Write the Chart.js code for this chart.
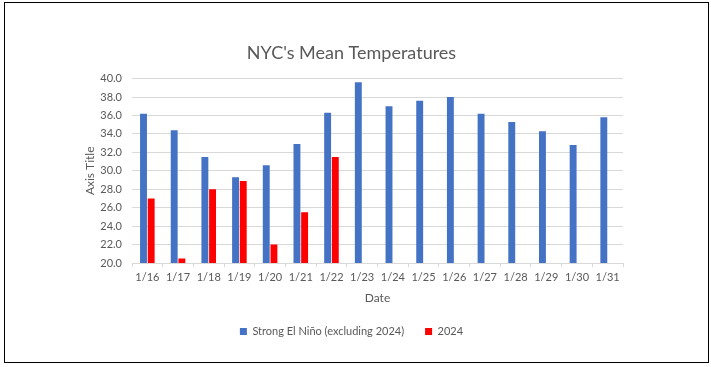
<!DOCTYPE html>
<html>
<head>
<meta charset="utf-8">
<script src="https://cdn.jsdelivr.net/npm/chart.js@4"></script>
<style>
  html, body { margin: 0; padding: 0; background: #fff; }
  body { width: 711px; height: 367px; position: relative; overflow: hidden; }
  .box {
    position: absolute; left: 4px; top: 2px;
    width: 703px; height: 359px;
    border: 1px solid #000;
  }
  canvas { display: block; }
</style>
</head>
<body>
<div class="box"><canvas id="chart" width="703" height="359"></canvas></div>
<script>
// Chart data
const dates = ["1/16","1/17","1/18","1/19","1/20","1/21","1/22","1/23","1/24","1/25","1/26","1/27","1/28","1/29","1/30","1/31"];
const strongElNino = [36.2, 34.4, 31.5, 29.3, 30.6, 32.9, 36.3, 39.6, 37.0, 37.6, 38.0, 36.2, 35.3, 34.3, 32.8, 35.8];
const temps2024 = [27.0, 20.5, 28.0, 28.9, 22.0, 25.5, 31.5, null, null, null, null, null, null, null, null, null];

const gray = "#595959";
const gridGray = "#d9d9d9";
const font = "Lato, 'Open Sans', sans-serif";

Chart.defaults.font.family = font;
Chart.defaults.color = gray;

const ctx = document.getElementById("chart").getContext("2d");

new Chart(ctx, {
  type: "bar",
  data: {
    labels: dates,
    datasets: [
      {
        label: "Strong El Niño (excluding 2024)",
        data: strongElNino,
        backgroundColor: "#4472C4",
        categoryPercentage: 0.5,
        barPercentage: 0.9
      },
      {
        label: "2024",
        data: temps2024,
        backgroundColor: "#FF0000",
        categoryPercentage: 0.5,
        barPercentage: 0.9
      }
    ]
  },
  options: {
    responsive: false,
    animation: false,
    layout: {
      padding: { left: 75, right: 85, top: 0, bottom: 15 }
    },
    plugins: {
      title: {
        display: true,
        text: "NYC's Mean Temperatures",
        color: gray,
        font: { size: 18, weight: "normal" },
        padding: { top: 39, bottom: 15 }
      },
      legend: {
        position: "bottom",
        labels: {
          color: gray,
          font: { size: 11 },
          boxWidth: 7,
          boxHeight: 7,
          padding: 21
        }
      },
      tooltip: { enabled: false }
    },
    scales: {
      x: {
        grid: {
          display: true,
          drawOnChartArea: false,
          drawTicks: true,
          tickLength: 4,
          color: gridGray
        },
        border: { color: gridGray },
        ticks: { color: gray, font: { size: 11 }, padding: 4, maxRotation: 0 },
        title: {
          display: true,
          text: "Date",
          color: gray,
          font: { size: 12 },
          padding: { top: 4, bottom: 0 }
        },
        afterFit: (scale) => { scale.height = 42; }
      },
      y: {
        min: 20,
        max: 40,
        ticks: {
          stepSize: 2,
          color: gray,
          font: { size: 11 },
          padding: 10,
          callback: (v) => Number(v).toFixed(1)
        },
        grid: { color: gridGray, drawTicks: false },
        border: { display: false },
        title: {
          display: true,
          text: "Axis Title",
          color: gray,
          font: { size: 12 },
          padding: { top: 3, bottom: 0 }
        },
        afterFit: (scale) => { scale.width = 52; }
      }
    }
  }
});
</script>
</body>
</html>
